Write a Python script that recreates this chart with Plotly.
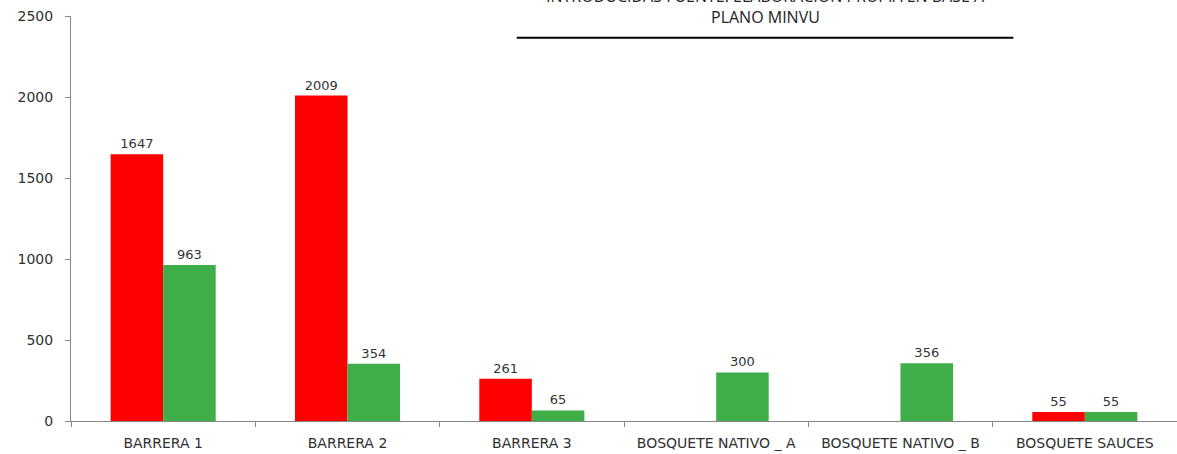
import plotly.graph_objects as go

categories = ["BARRERA 1", "BARRERA 2", "BARRERA 3",
              "BOSQUETE NATIVO _ A", "BOSQUETE NATIVO _ B", "BOSQUETE SAUCES"]
red_values = [1647, 2009, 261, None, None, 55]
green_values = [963, 354, 65, 300, 356, 55]
y_ticks = [0, 500, 1000, 1500, 2000, 2500]

font_main = "DejaVu Sans"
txt_col = "#333333"

fig = go.Figure()
fig.add_trace(go.Bar(x=categories, y=red_values, name="Serie 1",
                     marker=dict(color="#ff0000", line=dict(width=0)),
                     text=red_values, textposition="outside",
                     textfont=dict(family=font_main, size=13, color=txt_col),
                     cliponaxis=False))
fig.add_trace(go.Bar(x=categories, y=green_values, name="Serie 2",
                     marker=dict(color="#3fae49", line=dict(width=0)),
                     text=green_values, textposition="outside",
                     textfont=dict(family=font_main, size=13, color=txt_col),
                     cliponaxis=False))

fig.update_layout(
    width=1177, height=454,
    margin=dict(l=71, r=0, t=16, b=33),
    paper_bgcolor="white", plot_bgcolor="white",
    barmode="group", bargap=0.43, bargroupgap=0,
    showlegend=False,
    font=dict(family=font_main, size=13, color=txt_col),
    xaxis=dict(showline=True, linecolor="#868686", linewidth=1,
               ticks="outside", tickson="boundaries", ticklen=5,
               tickcolor="#868686", showgrid=False, ticklabelstandoff=9,
               tickfont=dict(family=font_main, size=14, color="#303030")),
    yaxis=dict(range=[0, 2500], tickvals=y_ticks, showline=True,
               linecolor="#868686", linewidth=1, ticks="outside", ticklen=5,
               tickcolor="#868686", showgrid=False, zeroline=False,
               ticklabelstandoff=9,
               tickfont=dict(family=font_main, size=14, color="#303030")),
)

fig.add_annotation(xref="paper", yref="paper", x=0.6275, y=0.9975,
                   text="PLANO MINVU", showarrow=False, yanchor="middle",
                   font=dict(family="Open Sans", size=16, color="#222222"))
fig.add_annotation(xref="paper", yref="paper", x=0.6275, y=1.05,
                   text="INTRODUCIDAS FUENTE: ELABORACIÓN PROPIA EN BASE A",
                   showarrow=False, yanchor="middle",
                   font=dict(family="Open Sans", size=16, color="#222222"))
fig.add_shape(type="line", xref="paper", yref="paper",
              x0=0.403, x1=0.852, y0=0.946, y1=0.946,
              line=dict(color="black", width=2))

fig.write_html("out.html", config={"displayModeBar": False},
               post_script="document.body.style.margin='0';")
